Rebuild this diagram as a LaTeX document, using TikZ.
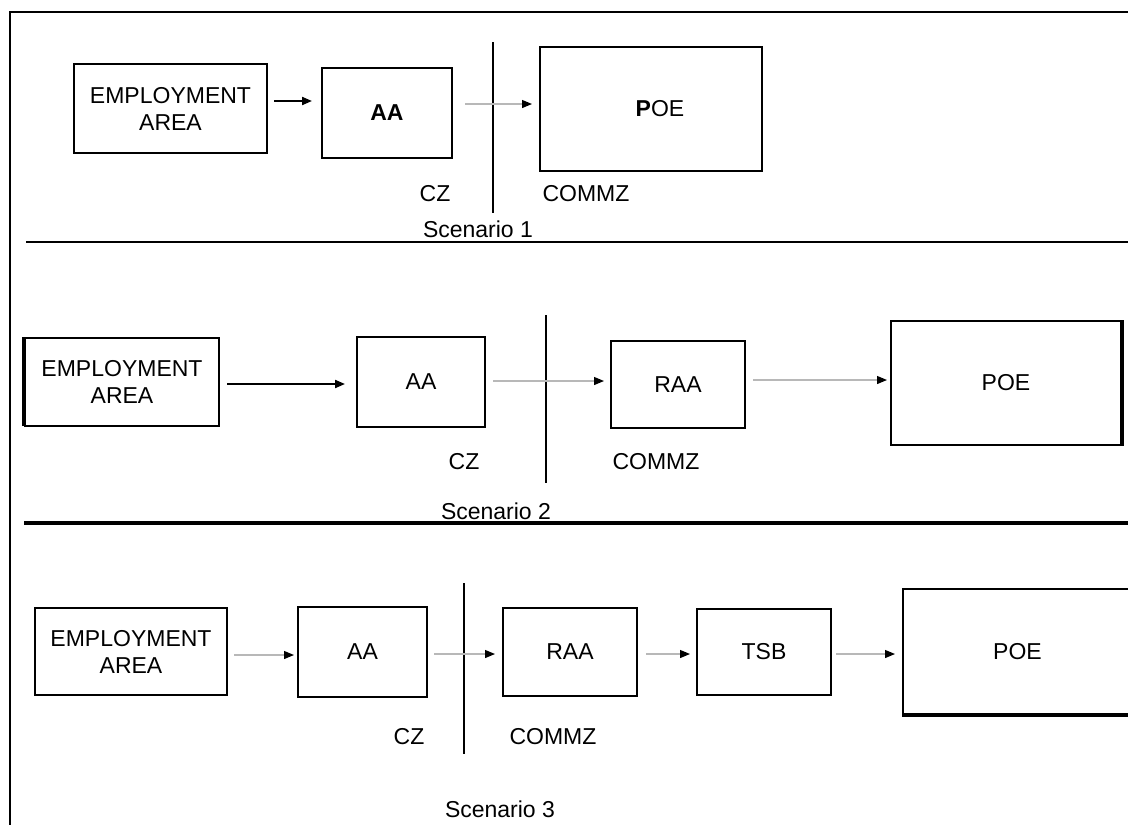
\documentclass[tikz,border=0pt]{standalone}
\usepackage{fontspec}
\setmainfont{Liberation Sans}
\usetikzlibrary{arrows.meta}
\begin{document}
\begin{tikzpicture}[x=1pt,y=-1pt,
  txt/.style={font=\fontsize{23}{27}\selectfont},
  box/.style={draw=black,line width=2pt,inner sep=0pt,align=center,txt},
  lbl/.style={inner sep=0pt,txt},
  darr/.style={line width=2pt,-{Triangle[length=10pt,width=8pt]}},
  garr/.style={draw=black!28,line width=1.2pt,-{Triangle[length=10pt,width=8pt,color=black]}},
  rule/.style={line width=2pt},
  thickrule/.style={line width=4pt},
  edge/.style={line width=4pt},
]
\clip (0,0) rectangle (1128,825);
\fill[white] (0,0) rectangle (1128,825);

% frame and dividers between the scenarios
\draw[rule] (1130,12) -- (10,12) -- (10,830);
\draw[rule] (26,242) -- (1130,242);
\draw[thickrule] (24,523) -- (1130,523);

% ---------- Scenario 1 ----------
\node[box,minimum width=193pt,minimum height=89pt] (ea1) at (170.5,108.5) {EMPLOYMENT\\AREA};
\node[box,minimum width=130pt,minimum height=90pt] (aa1) at (387,113) {\textbf{AA}};
\node[box,minimum width=222pt,minimum height=124pt] (poe1) at (651,109) {\hspace*{18pt}\textbf{P}OE};
\draw[rule] (493,42) -- (493,213);
\coordinate (r1a) at (0,101);
\coordinate (r1b) at (0,104);
\draw[darr,shorten <=6pt,shorten >=9pt] (ea1.east |- r1a) -- (aa1.west |- r1a);
\draw[garr,shorten <=12pt,shorten >=7pt] (aa1.east |- r1b) -- (poe1.west |- r1b);
\node[lbl] (cz1) at (435,194) {CZ};
\node[lbl] (commz1) at (586,194) {COMMZ};
\node[lbl] (sc1) at (478,229) {Scenario 1};

% ---------- Scenario 2 ----------
\node[box,minimum width=194pt,minimum height=88pt] (ea2) at (122,382) {EMPLOYMENT\\AREA};
\draw[edge] (ea2.south west) ++(0,-1) -- (ea2.north west);
\node[box,minimum width=128pt,minimum height=90pt] (aa2) at (421,382) {AA};
\node[box,minimum width=134pt,minimum height=87pt] (raa2) at (678,384.5) {RAA};
\node[box,minimum width=230pt,minimum height=124pt] (poe2) at (1006,383) {POE};
\draw[edge] (poe2.north east) -- (poe2.south east);
\draw[rule] (546,315) -- (546,483);
\coordinate (r2a) at (0,384);
\coordinate (r2b) at (0,381);
\coordinate (r2c) at (0,380);
\draw[darr,shorten <=7pt,shorten >=11pt] (ea2.east |- r2a) -- (aa2.west |- r2a);
\draw[garr,shorten <=7pt,shorten >=6pt] (aa2.east |- r2b) -- (raa2.west |- r2b);
\draw[garr,shorten <=7pt,shorten >=3pt] (raa2.east |- r2c) -- (poe2.west |- r2c);
\node[lbl] (cz2) at (464,462) {CZ};
\node[lbl] (commz2) at (656,462) {COMMZ};
\node[lbl] (sc2) at (496,511) {Scenario 2};

% ---------- Scenario 3 ----------
\node[box,minimum width=192pt,minimum height=87pt] (ea3) at (131,651.5) {EMPLOYMENT\\AREA};
\node[box,minimum width=129pt,minimum height=90pt] (aa3) at (362.5,652) {AA};
\node[box,minimum width=134pt,minimum height=88pt] (raa3) at (570,652) {RAA};
\node[box,minimum width=134pt,minimum height=86pt] (tsb3) at (764,652) {TSB};
\node[box,minimum width=229pt,minimum height=125pt] (poe3) at (1017.5,651.5) {POE};
\draw[edge] (poe3.south west) -- (poe3.south east);
\draw[rule] (464,583) -- (464,754);
\coordinate (r3a) at (0,655);
\coordinate (r3b) at (0,654);
\draw[garr,shorten <=6pt,shorten >=3pt] (ea3.east |- r3a) -- (aa3.west |- r3a);
\draw[garr,shorten <=6pt,shorten >=7pt] (aa3.east |- r3b) -- (raa3.west |- r3b);
\draw[garr,shorten <=8pt,shorten >=6pt] (raa3.east |- r3b) -- (tsb3.west |- r3b);
\draw[garr,shorten <=4pt,shorten >=7pt] (tsb3.east |- r3b) -- (poe3.west |- r3b);
\node[lbl] (cz3) at (409,737) {CZ};
\node[lbl] (commz3) at (553,737) {COMMZ};
\node[lbl] (sc3) at (500,809) {Scenario 3};
\end{tikzpicture}
\end{document}
